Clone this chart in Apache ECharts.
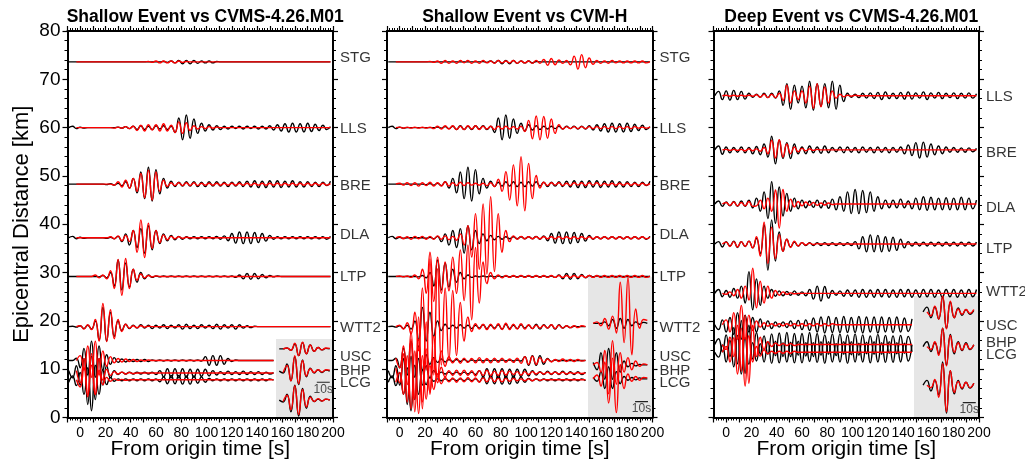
<!DOCTYPE html>
<html>
<head>
<meta charset="utf-8">
<script src="https://cdn.jsdelivr.net/npm/echarts@6/dist/echarts.min.js"></script>
<style>
  html, body { margin: 0; background: #fff; }
  #chart { width: 1025px; height: 461px; }
</style>
</head>
<body>
<div id="chart"></div>
<script>
// seismograms: amplitudes in km of the distance axis, one sample every STEP seconds
const STEP = 3
const OBS_T0 = -9     // black (data) traces start here
const SYN_T0 = -3     // red (synthetic) traces start here

const TITLES = ['Shallow Event vs CVMS-4.26.M01', 'Shallow Event vs CVM-H', 'Deep Event vs CVMS-4.26.M01']

const SHALLOW_STATIONS = ['STG', 'LLS', 'BRE', 'DLA', 'LTP', 'WTT2', 'USC', 'BHP', 'LCG']
const SHALLOW_BASE = [73.6, 60.0, 48.3, 37.2, 29.2, 18.8, 11.8, 9.2, 7.8]
const SHALLOW_LABEL_Y = [74.4, 59.7, 47.9, 37.8, 29.1, 18.5, 12.6, 9.7, 7.1]
const END_P1 = [198, 198, 198, 198, 198, 198, 153, 153, 153]
const END_P2 = [198, 198, 198, 198, 198, 148, 148, 148, 148]

const DEEP_STATIONS = ['LLS', 'BRE', 'DLA', 'LTP', 'WTT2', 'USC', 'BHP', 'LCG']
const DEEP_BASE = [66.6, 55.4, 44.2, 35.9, 25.7, 19.2, 15.1, 13.5]
const DEEP_LABEL_Y = [66.3, 54.7, 43.3, 35.0, 26.0, 18.9, 15.5, 12.9]
const END_P3 = [198, 198, 198, 198, 198, 147, 147, 147]

// observed, shallow event (used by panel 1 and 2)
const SHALLOW_OBS = [
  [0,0,0,0,0,0,0,0,0,0, 0,0,0,0,0,0,0,0,0,0, 0,0,0,0,0,0.1,-0.1,0.2,-0.2,0.3, -0.4,0.3,-0.4,0.3,-0.3,0.2,-0.2,0.2,-0.2,0.1],
  [0,0.3,-0.2,0.1,-0.1,0,0,0,0,0, 0,0,0,0.1,-0.1,0.2,-0.2,0.3,-0.4,0.4, -0.4,0.3,-0.4,0.4,-0.3,0.4,-0.4,0.3,-1.0,2.0, -2.5,2.6,-2.2,1.8,-1.2,0.9,-0.7,0.6,-0.5,0.4, -0.4,0.3,-0.3,0.3,-0.2,0.3,-0.3,0.3,-0.2,0.3, -0.3,0.3,-0.3,0.4,-0.5,0.6,-0.7,0.8,-0.9,0.9, -0.9,0.8,-0.9,0.9,-0.8,0.7,-0.6,0.5,-0.4,0.2],
  [0,0,0,0,0,0,0,0,0,0, -0.1,0.1,-0.2,0.2,-0.3,0.5,-0.8,1.2,-1.8,2.5, -3.0,3.5,-3.5,3.0,-2.0,1.2,-0.8,0.6,-0.5,0.4, -0.4,0.5,-0.4,0.5,-0.5,0.4,-0.5,0.5,-0.4,0.5, -0.4,0.4,-0.5,0.4,-0.4,0.5,-0.5,0.6,-0.6,0.7, -0.7,0.6,-0.7,0.7,-0.6,0.7,-0.7,0.6,-0.6,0.7, -0.6,0.5,-0.6,0.5,-0.5,0.4,-0.5,0.4,-0.3,0.6],
  [0,0.3,-0.2,0.1,-0.1,0,0,0,0,0, -0.1,0.1,-0.2,0.3,-0.8,0.8,-1.5,1.5,-2.0,1.9, -3.2,2.5,-2.5,1.5,-1.2,0.8,-0.6,0.5,-0.4,0.3, -0.3,0.2,-0.2,0.2,-0.2,0.2,-0.2,0.2,-0.2,0.3, -0.3,0.4,-0.6,0.9,-1.1,1.2,-1.2,1.2,-1.2,1.1, -1.0,0.9,-0.7,0.5,-0.3,0.2,-0.2,0.2,-0.2,0.2, -0.2,0.2,-0.2,0.2,-0.2,0.2,-0.2,0.2,-0.3,0.3],
  [0,0,0,0,0,0,0,0,-0.1,0.2, -0.3,0.8,-2.0,3.4,-2.8,2.8,-2.2,1.5,-1.2,0.8, -0.5,0.3,-0.2,0.1,-0.1,0.1,-0.1,0.1,-0.1,0.1, -0.1,0.1,-0.1,0.1,-0.1,0.1,-0.1,0.1,-0.1,0.1, -0.1,0.1,-0.1,0.1,-0.2,0.3,-0.5,0.6,-0.6,0.6, -0.5,0.4,-0.3,0.2,-0.1,0.1],
  [0,0.1,-0.1,0.2,-0.4,0.3,-0.5,1.2,-2.8,4.0, -3.0,3.0,-2.0,1.2,-0.8,0.5,-0.4,0.3,-0.3,0.4, -0.3,0.3,-0.4,0.3,-0.3,0.4,-0.4,0.3,-0.3,0.4, -0.5,0.5,-0.4,0.3,-0.4,0.4,-0.3,0.3,-0.4,0.5, -0.5,0.4,-0.3,0.4,-0.5,0.4,-0.3,0.2,-0.2,0.1],
  [0,0,0.5,-1.5,2.5,-3.0,4.0,-3.5,3.0,-2.0, 1.2,-0.8,0.6,-0.4,0.3,-0.3,0.2,-0.2,0.2,-0.2, 0.2,-0.2,0.1,-0.1,0.1,-0.1,0.1,-0.1,0.1,-0.1, 0.1,-0.1,0.1,-0.1,0.1,-0.1,0.8,-1.0,1.0,-1.0, 1.0,-0.8,0.4,-0.2,0.1],
  [0.5,-1.0,1.5,-2.5,3.0,-6.5,3.5,-5.5,3.0,-2.5, 1.5,-1.0,0.5,-0.3,0.2,-0.2,0.2,-0.2,0.2,-0.2, 0.2,-0.2,0.2,-0.3,0.5,-0.8,0.9,-1.0,0.9,-1.0, 0.9,-0.9,0.8,-0.9,0.8,-0.7,0.8,-0.6,0.5,-0.4, 0.3,-0.3,0.4,-0.3,0.3,-0.3,0.4,-0.3,0.3,-0.3, 0.3,-0.3,0.2,-0.2,0.1],
  [-0.5,0.8,-1.2,1.5,-3.0,2.5,-6.4,3.0,-3.0,2.0, -1.0,0.5,-0.3,0.2,-0.2,0.2,-0.2,0.2,-0.2,0.2, -0.2,0.2,-0.2,0.2,-0.4,0.6,-0.8,0.9,-0.8,0.9, -0.9,0.8,-0.9,0.8,-0.7,0.6,-0.5,0.3,-0.2,0.2, -0.2,0.2,-0.2,0.2,-0.2,0.2,-0.2,0.2,-0.2,0.2, -0.2,0.2,-0.2,0.2,-0.1]
]

// synthetics CVMS-4.26.M01, shallow event
const SHALLOW_CVMS = [
  [0,0,0,0,0,0,0,0,0,0, 0,0,0,0,0,0,0,0,0,0.1, -0.1,0.2,-0.2,0.2,-0.2,0.2,-0.2,0.2,-0.1,0.1],
  [0,0,0,0,0,0,0,0,0,0, -0.1,0.1,-0.1,0.2,-0.2,0.3,-0.6,0.5,-0.7,0.6, -0.5,0.6,-0.7,0.8,-0.7,0.5,-1.0,1.2,-1.2,1.0, -0.6,0.4,-0.3,0.2,-0.2,0.2,-0.1,0.1],
  [0,0,0,0,0,0,0,0,0,0, -0.2,0.5,-0.6,0.8,-0.8,1.2,-1.5,2.2,-2.8,2.9, -3.3,2.5,-1.5,0.8,-0.5,0.3,-0.3,0.3,-0.3,0.3, -0.3,0.3,-0.3,0.2,-0.2,0.2,-0.2,0.2,-0.2,0.2, -0.2,0.2,-0.2,0.2,-0.2,0.2,-0.2,0.2,-0.2,0.2, -0.2,0.2,-0.2,0.2,-0.2,0.2,-0.2,0.2,-0.2,0.2, -0.2,0.2,-0.2,0.2,-0.2,0.2,-0.2,0.1],
  [0,0,0,0,0,0,0,0,0,0.2, -0.2,0.4,-0.6,0.5,-0.8,1.5,-3.0,3.7,-4.1,3.0, -2.2,1.5,-1.0,0.6,-0.4,0.3,-0.2,0.2,-0.1,0.1],
  [0,0,0,0,0,0.3,-0.3,0.3,-0.5,1.2, -2.5,3.5,-3.9,3.7,-2.5,1.5,-0.8,0.5,-0.3,0.2, -0.1,0.1],
  [0,0.2,-0.5,0.4,-0.6,1.5,-3.0,4.8,-3.1,3.5, -2.5,1.5,-1.0,0.5,-0.3,0.2,-0.2,0.2,-0.1,0.1],
  [0,1.0,-2.0,3.0,-3.5,4.0,-3.0,2.0,-1.2,0.8, -0.5,0.4,-0.3,0.3,-0.2,0.2,-0.2,0.1,-0.1,0.1],
  [0.5,-2.0,3.0,-4.5,4.0,-4.5,3.0,-1.5,0.8,-0.5, 0.3,-0.2,0.2,-0.2,0.1,-0.1],
  [0,-1.5,2.5,-3.5,3.0,-3.0,2.0,-1.0,0.5,-0.3, 0.2,-0.1,0.1,-0.1]
]

// synthetics CVM-H, shallow event
const SHALLOW_CVMH = [
  [0,0,0,0,0,0,0,0,0,0.1, -0.1,0.2,-0.3,0.3,-0.3,0.2,-0.3,0.3,-0.2,0.3, -0.3,0.2,-0.3,0.3,-0.2,0.2,-0.3,0.3,-0.2,0.2, -0.2,0.3,-0.3,0.2,-0.2,0.2,-0.3,0.3,-0.3,0.5, -0.7,0.7,-0.6,0.4,-0.3,0.3,-0.6,1.2,-1.5,1.5, -1.2,0.8,-0.5,0.3,-0.3,0.2,-0.3,0.3,-0.2,0.2, -0.2,0.2,-0.2,0.2,-0.2,0.2,-0.2,0.1],
  [0,0.1,-0.1,0.1,-0.1,0.1,-0.1,0.1,-0.1,0.1, -0.2,0.3,-0.3,0.4,-0.3,0.4,-0.4,0.3,-0.4,0.4, -0.3,0.4,-0.4,0.3,-0.3,0.3,-0.4,0.3,-0.3,0.3, -0.3,0.2,-0.3,0.3,-0.8,1.5,-2.3,2.4,-2.5,2.3, -2.2,1.8,-1.2,0.6,-0.3,0.2,-0.2,0.2,-0.2,0.2, -0.2,0.2,-0.2,0.2,-0.2,0.2,-0.2,0.2,-0.2,0.2, -0.2,0.2,-0.2,0.2,-0.1,0.1,-0.1,0.1],
  [0,0.2,-0.2,0.3,-0.3,0.3,-0.4,0.3,-0.3,0.4, -0.4,0.3,-0.4,0.5,-0.4,0.3,-0.3,0.4,-0.3,0.3, -0.2,0.2,-0.2,0.2,-0.3,0.3,-0.5,1.0,-1.5,2.6, -3.3,4.0,-4.5,5.7,-5.5,4.3,-3.0,1.8,-0.8,0.4, -0.3,0.3,-0.2,0.3,-0.3,0.2,-0.3,0.3,-0.2,0.3, -0.3,0.3,-0.2,0.3,-0.3,0.2,-0.2,0.2,-0.2,0.2, -0.2,0.2,-0.2,0.2,-0.2,0.2,-0.2,0.1],
  [0,0.2,-0.2,0.2,-0.3,0.3,-0.2,0.3,-0.3,0.3, -0.3,0.4,-0.3,0.4,-0.4,0.3,-0.5,0.8,-1.5,2.5, -4.0,5.0,-6.5,7.0,-7.5,8.5,-7.0,5.0,-3.0,1.5, -0.8,0.4,-0.3,0.3,-0.2,0.2,-0.2,0.2,-0.2,0.2, -0.2,0.2,-0.2,0.2,-0.2,0.2,-0.2,0.2,-0.2,0.2, -0.2,0.2,-0.2,0.2,-0.2,0.2,-0.2,0.2,-0.2,0.2, -0.2,0.2,-0.2,0.2,-0.2,0.2,-0.2,0.1],
  [0,0.1,-0.1,0.1,-0.2,0.3,-0.5,1.5,-3.5,5.0, -5.2,4.0,-3.5,3.0,-3.0,4.0,-3.5,5.5,-5.0,6.5, -9.0,6.0,-5.5,3.0,-1.5,0.8,-0.5,0.3,-0.3,0.2, -0.2,0.2,-0.2,0.2,-0.2,0.2,-0.2,0.2,-0.2,0.2, -0.2,0.2,-0.2,0.2,-0.2,0.2,-0.2,0.2,-0.2,0.2, -0.2,0.2,-0.2,0.2,-0.2,0.2,-0.2,0.2,-0.2,0.2, -0.2,0.2,-0.2,0.2,-0.2,0.2,-0.2,0.1],
  [0,0.3,-0.5,0.8,-1.5,3.0,-5.0,8.0,-9.0,14.0, -10.0,12.0,-8.0,8.0,-7.0,7.5,-6.0,5.0,-3.0,2.0, -1.0,0.6,-0.5,0.5,-0.6,0.5,-0.5,0.6,-0.6,0.7, -0.6,0.5,-0.5,0.6,-0.5,0.4,-0.4,0.3,-0.3,0.3, -0.3,0.4,-0.4,0.3,-0.3,0.2,-0.2,0.2,-0.2,0.2],
  [0.5,-1.5,3.0,-5.0,6.0,-8.0,9.0,-10.0,8.0,-7.0, 5.0,-3.5,2.0,-1.2,0.8,-0.5,0.5,-0.6,0.5,-0.4, 0.4,-0.5,0.6,-0.5,0.4,-0.5,0.5,-0.4,0.5,-0.4, 0.3,-0.4,0.5,-0.6,0.8,-0.8,0.9,-0.8,0.6,-0.4, 0.3,-0.3,0.2,-0.2,0.3,-0.2,0.2,-0.2,0.2,-0.1, 0.1],
  [1.0,-2.0,4.0,-6.0,7.0,-8.0,7.0,-6.0,5.0,-4.0, 3.0,-2.0,1.2,-0.8,0.5,-0.5,0.6,-0.5,0.6,-0.5, 0.5,-0.6,0.5,-0.5,0.6,-0.5,0.4,-0.5,0.5,-0.4, 0.4,-0.3,0.3,-0.4,0.3,-0.3,0.3,-0.2,0.2,-0.2, 0.2,-0.2,0.2,-0.2,0.2,-0.2,0.1,-0.1,0.1,-0.1],
  [-0.5,1.5,-3.0,5.0,-6.0,6.0,-7.0,5.0,-4.0,3.0, -2.0,1.2,-0.8,0.5,-0.4,0.4,-0.5,0.4,-0.4,0.5, -0.4,0.4,-0.5,0.4,-0.4,0.5,-0.4,0.3,-0.4,0.3, -0.3,0.3,-0.2,0.2,-0.2,0.2,-0.2,0.2,-0.1,0.1]
]

// observed, deep event
const DEEP_OBS = [
  [0,0.9,-0.8,1.0,-0.9,1.1,-0.8,0.9,-0.7,0.5, -0.3,0.3,-0.3,0.5,-0.4,0.5,-0.5,1.0,-2.0,2.5, -2.8,2.2,-1.5,2.0,-2.5,3.0,-3.0,2.5,-2.2,2.5, -2.5,3.0,-2.8,2.2,-1.2,0.5,-0.3,0.3,-0.4,0.5, -0.5,0.6,-0.6,0.7,-0.8,0.8,-0.6,0.5,-0.6,0.7, -0.7,0.8,-0.7,0.6,-0.5,0.8,-0.8,0.6,-0.5,0.7, -0.6,0.5,-0.4,0.6,-0.6,0.5,-0.5,0.6,-0.5,0.4],
  [0,0.8,-0.9,0.6,-0.6,0.5,-0.5,0.6,-0.6,0.5, -0.8,0.7,-1.0,1.2,-1.5,2.8,-2.9,2.0,-1.8,1.5, -1.8,1.2,-0.8,0.6,-0.8,0.8,-0.6,0.6,-0.7,0.8, -0.6,0.5,-0.4,0.6,-0.6,0.6,-0.5,0.5,-0.6,0.6, -0.5,0.5,-0.6,0.6,-0.5,0.5,-0.6,0.5,-0.5,0.6, -0.8,1.0,-1.2,1.5,-1.7,1.6,-1.5,1.2,-1.0,0.8, -0.8,0.6,-0.5,0.5,-0.5,0.4,-0.5,0.4,-0.4,0.3],
  [0,0.6,-0.5,0.4,-0.4,0.5,-0.5,0.6,-0.5,0.8, -0.8,1.2,-1.5,2.5,-3.0,4.6,-4.0,3.5,-2.5,2.2, -1.5,1.2,-1.0,0.8,-0.8,0.6,-0.7,0.8,-0.8,0.7, -0.9,1.0,-1.2,1.5,-1.5,2.5,-2.0,3.0,-2.0,2.8, -1.8,2.5,-1.5,1.5,-1.0,0.8,-0.8,0.8,-0.8,1.0, -0.8,0.6,-1.0,1.2,-1.2,1.5,-1.3,1.4,-1.2,1.2, -1.2,1.3,-1.2,1.2,-1.2,1.4,-1.2,1.2,-1.0,0.8],
  [0,0.5,-0.6,0.5,-0.4,0.6,-0.7,0.5,-0.5,0.6, -0.8,1.2,-2.0,4.0,-5.4,5.0,-3.5,2.5,-1.5,1.0, -0.6,0.4,-0.4,0.3,-0.3,0.3,-0.3,0.3,-0.3,0.3, -0.3,0.3,-0.3,0.3,-0.3,0.3,-0.3,0.5,-1.0,1.5, -1.6,1.9,-1.6,1.8,-1.6,1.5,-1.5,1.4,-1.3,1.0, -0.8,0.5,-0.4,0.4,-0.4,0.4,-0.4,0.4,-0.4,0.4, -0.4,0.4,-0.4,0.4,-0.4,0.4,-0.4,0.4,-0.4,0.4],
  [0,0.8,-0.7,0.6,-0.8,1.0,-1.0,1.5,-2.0,4.5, -3.4,3.0,-2.5,1.5,-1.0,0.8,-0.6,0.5,-0.5,0.4, -0.4,0.5,-0.4,0.3,-0.5,0.8,-1.2,1.5,-1.6,1.4, -1.0,0.6,-0.4,0.5,-0.6,0.7,-0.6,0.7,-0.8,0.8, -0.8,0.7,-0.8,0.8,-0.7,0.8,-0.8,0.7,-0.8,0.8, -0.7,0.8,-0.8,0.7,-0.8,0.8,-0.7,0.8,-0.8,0.7, -0.8,0.8,-0.7,0.8,-0.8,0.7,-0.8,0.8,-0.7,0.8],
  [0,-1.0,1.0,-1.5,1.5,-2.0,2.5,-3.0,2.0,-1.5, 1.5,-1.5,1.2,-1.0,0.8,-0.8,0.6,-0.5,0.6,-0.6, 0.8,-0.8,0.9,-1.0,1.0,-1.2,1.4,-1.5,1.6,-1.7, 1.7,-1.6,1.5,-1.6,1.7,-1.6,1.5,-1.6,1.7,-1.7, 1.6,-1.5,1.6,-1.7,1.6,-1.5,1.5,-1.6,1.6,-1.5, 1.4,-1.4,1.2],
  [0,1.2,-1.5,2.0,-2.5,3.5,-4.0,5.0,-6.0,4.0, -3.0,2.5,-2.0,1.8,-2.0,2.2,-2.3,2.4,-2.5,2.5, -2.5,2.3,-2.2,2.3,-2.4,2.5,-2.5,2.3,-2.2,2.0, -2.0,2.2,-2.3,2.2,-2.0,2.0,-2.1,2.2,-2.2,2.0, -1.9,1.8,-2.0,2.1,-2.0,1.9,-1.8,1.8,-1.9,1.9, -1.8,1.7,-1.5],
  [0,-1.0,1.5,-2.0,2.5,-3.0,3.5,-4.5,3.0,-2.5, 2.0,-1.8,1.8,-2.0,2.2,-2.3,2.3,-2.2,2.0,-2.0, 2.1,-2.2,2.3,-2.2,2.0,-1.9,2.0,-2.1,2.2,-2.3, 2.2,-2.0,1.8,-2.0,2.2,-2.3,2.2,-2.0,1.9,-2.0, 2.1,-2.2,2.2,-2.0,2.0,-2.1,2.2,-2.1,2.0,-2.0, 1.9,-1.8,1.6]
]

// synthetics CVMS-4.26.M01, deep event
const DEEP_CVMS = [
  [0,0.1,-0.1,0.1,-0.1,0.1,-0.1,0.1,-0.1,0.2, -0.3,0.3,-0.4,0.3,-0.4,0.5,-1.0,2.2,-1.5,1.0, -0.8,1.0,-1.5,2.0,-2.6,2.5,-2.3,1.8,-1.5,1.0, -0.5,0.3,-0.2,0.1,-0.1,0.1],
  [0,0.1,-0.1,0.1,-0.1,0.1,-0.2,0.2,-0.2,0.2, -0.3,0.5,-0.8,2.0,-1.7,2.1,-1.5,1.2,-0.8,0.6, -0.4,0.3,-0.2,0.2,-0.1,0.1],
  [0,0.3,-0.3,0.4,-0.4,0.3,-0.4,0.5,-0.5,-0.4, 0.8,-1.0,1.2,-1.5,2.9,-5.0,3.0,-1.5,1.0,-0.6, 0.5,-0.4,0.4,-0.3,0.3,-0.3,0.2,-0.2,0.2,-0.1],
  [0,0.4,-0.5,0.5,-0.6,0.5,-0.5,0.6,-0.8,1.5, -2.5,4.5,-4.0,3.5,-3.0,2.0,-1.5,1.0,-0.7,0.6, -0.4,0.3,-0.2,0.2,-0.1,0.1],
  [0,-0.2,0.3,-0.5,0.8,-1.0,1.5,-1.4,5.2,-3.0, 2.5,-2.0,1.5,-1.0,0.6,-0.4,0.3,-0.2,0.1,-0.1],
  [0,1.0,-1.5,2.5,-3.0,4.0,-3.0,2.0,-1.2,0.8, -0.5,0.4,-0.3,0.2,-0.2,0.2,-0.2,0.2,-0.2,0.2, -0.2,0.2,-0.2,0.2,-0.2,0.2,-0.2,0.2,-0.2,0.2],
  [0,-1.0,1.5,-2.5,4.0,-5.5,6.0,-8.0,4.0,-2.5, 1.5,-1.0,0.6,-0.4,0.3,-0.2,0.2,-0.2,0.2,-0.2],
  [0,1.2,-2.0,3.0,-4.5,5.0,-7.0,3.5,-2.0,1.2, -0.8,0.5,-0.3,0.2,-0.2,0.2,-0.2,0.2,-0.2,0.2]
]

// zoomed insets (grey boxes): baselines in km, samples every STEP seconds of inset time
const INSET1_BASE = [14.2, 9.6, 3.6]
const INSET1_OBS_T0 = 2.5
const INSET1_SYN_T0 = 5.5
const INSET1_OBS = [
  [0,0,0.2,-0.3,1.0,-1.4,1.3,-1.0,0.8,-0.5,0.3,-0.2,0.1,0],
  [0,-0.4,1.5,-2.0,3.0,-2.8,2.3,-1.2,0.6,-0.4,0.3,-0.3,0.2,0],
  [0,-0.4,1.2,-2.4,3.1,-3.3,2.4,-1.7,0.8,-0.3,0.2,-0.2,0.2,0]
]
const INSET1_SYN = [
  [0,0.2,-0.3,1.2,-1.4,1.4,-1.0,0.8,-0.5,0.3,-0.2,0.2,0.1],
  [-0.3,1.2,-2.0,3.2,-2.6,2.2,-1.0,0.5,-0.3,0.3,-0.2,0.3,0.2],
  [-0.3,1.0,-2.0,3.0,-3.0,2.2,-1.4,0.6,-0.3,0.3,-0.2,0.2,0]
]
const INSET2_BASE = [19.5, 10.9, 8.0]
const INSET2_OBS_T0 = 4
const INSET2_SYN_T0 = 4
const INSET2_OBS = [
  [0,0,0,0.3,-0.5,0.8,-1.0,1.0,-1.0,0.8,-0.5,0.3,-0.2,0.2,0],
  [0.5,-1.0,2.5,-3.0,3.4,-3.0,2.5,-1.5,0.8,-0.4,0.3,-0.2,0.1,0,0],
  [0.3,-0.5,1.5,-2.0,2.5,-2.0,1.5,-1.0,0.5,-0.3,0.3,-0.2,0.2,0,0]
]
const INSET2_SYN = [
  [0,0.3,-0.5,1.0,-1.2,1.5,-2.0,8.5,-4.0,9.5,-6.5,3.0,-1.0,0.8,0.6],
  [0,0.5,-1.5,3.0,-6.0,5.0,-4.0,2.5,-1.5,1.5,-1.0,0.8,-0.3,0.2,0],
  [0,0.8,-1.5,3.5,-5.0,4.3,-7.0,3.0,-2.0,1.0,-0.5,0.5,-0.3,0.3,0.2]
]
const INSET3_BASE = [21.9, 14.7, 6.7]
const INSET3_OBS_T0 = 7
const INSET3_SYN_T0 = 10
const INSET3_OBS = [
  [0,1.0,-1.2,1.0,-1.5,3.1,-3.4,2.0,-1.2,0.8,-0.7,0.5,-0.5,0.3],
  [0,1.0,-1.0,0.8,-1.5,3.8,-3.8,2.5,-1.5,1.0,-0.8,0.8,-0.6,0.4],
  [0,1.0,-1.2,1.0,-2.0,4.8,-5.8,3.0,-1.8,1.0,-0.8,0.6,-0.6,0.4]
]
const INSET3_SYN = [
  [0,-0.8,1.2,-1.5,3.3,-3.5,2.2,-1.2,0.6,-0.5,0.5,-0.3,0.5],
  [0,-0.6,1.0,-1.8,3.8,-4.0,2.3,-1.2,0.8,-0.7,0.6,-0.5,0.4],
  [0,-0.5,1.2,-2.5,4.5,-5.5,3.0,-1.5,0.8,-0.6,0.6,-0.5,0.4]
]
const INSET_XMAX = [44, 50, 50]
const INSET_YMAX = [16.25, 29.1, 25.2]
// 10 s scale bars: [t start, t end, y km]
const SCALE_BARS = [[31.5, 41.5, 7.3], [36.5, 46.5, 3.3], [37.5, 47.5, 3.1]]

const FONT = 'Liberation Sans, Arial, Helvetica, sans-serif'
const BLACK = '#000'
const RED = '#ff0000'

const chart = echarts.init(document.getElementById('chart'))

function samples(amps, t0, end) {
  const pts = []
  amps.forEach((a, i) => {
    const t = t0 + i * STEP
    if (t <= end) pts.push([t, a])
  })
  let t = pts[pts.length - 1][0] + STEP
  while (t <= end) { pts.push([t, 0]); t += STEP }
  return pts
}

function trace(pts, base, color, axis, z) {
  return {
    type: 'line',
    xAxisIndex: axis,
    yAxisIndex: axis,
    data: pts.map(p => [p[0], base + p[1]]),
    symbol: 'none',
    smooth: 0.5,
    lineStyle: { color, width: 1.4 },
    silent: true,
    z
  }
}

const panelGrids = [
  { left: 67.5, top: 31, width: 265.5, height: 386.5 },
  { left: 387, top: 31, width: 265.5, height: 386.5 },
  { left: 713.5, top: 31, width: 265.5, height: 386.5 }
]
const insetGrids = [
  { left: 276, top: 339, width: 57, height: 78.5 },
  { left: 588, top: 277, width: 64.5, height: 140.5 },
  { left: 914, top: 296, width: 65, height: 121.5 }
]

const tickStyle = { show: true, inside: false, length: 5, lineStyle: { color: BLACK, width: 1.2 } }
const minorStyle = { show: true, splitNumber: 5, length: 3, lineStyle: { color: BLACK, width: 1 } }
const lineStyle = { show: true, onZero: false, lineStyle: { color: BLACK, width: 2 } }

const grids = []
const xAxes = []
const yAxes = []
panelGrids.forEach((g, p) => {
  grids.push(Object.assign({ containLabel: false, outerBoundsMode: 'none' }, g))
  xAxes.push({
    gridIndex: p, type: 'value', position: 'bottom', min: -10, max: 200, interval: 10, z: 5,
    axisLine: lineStyle, axisTick: tickStyle, minorTick: minorStyle, splitLine: { show: false },
    axisLabel: { color: BLACK, fontSize: 14, fontFamily: FONT, margin: 9, formatter: v => (v % 20 === 0 ? String(v) : '') },
    name: 'From origin time [s]', nameLocation: 'middle', nameGap: 21, nameMoveOverlap: false,
    nameTextStyle: { color: BLACK, fontSize: 21, fontFamily: FONT }
  })
  xAxes.push({
    gridIndex: p, type: 'value', position: 'top', min: -10, max: 200, interval: 10, z: 5,
    axisLine: lineStyle, axisTick: tickStyle, minorTick: minorStyle, splitLine: { show: false },
    axisLabel: { show: false }
  })
  yAxes.push({
    gridIndex: p, type: 'value', position: 'left', min: 0, max: 80, interval: 10, z: 5,
    axisLine: lineStyle, axisTick: tickStyle, minorTick: minorStyle, splitLine: { show: false },
    axisLabel: { show: p === 0, color: BLACK, fontSize: 19, fontFamily: FONT, margin: 7 },
    name: p === 0 ? 'Epicentral Distance [km]' : '', nameLocation: 'middle', nameGap: 35, nameMoveOverlap: false,
    nameTextStyle: { color: BLACK, fontSize: 22, fontFamily: FONT }
  })
  yAxes.push({
    gridIndex: p, type: 'value', position: 'right', min: 0, max: 80, interval: 10, z: 5,
    axisLine: lineStyle, axisTick: tickStyle, minorTick: minorStyle, splitLine: { show: false },
    axisLabel: { show: false }
  })
})
insetGrids.forEach((g, i) => {
  grids.push(Object.assign({ show: true, backgroundColor: '#e6e6e6', borderWidth: 0, z: 1, outerBoundsMode: 'none' }, g))
  xAxes.push({ gridIndex: 3 + i, type: 'value', min: 0, max: INSET_XMAX[i], show: false })
  yAxes.push({ gridIndex: 3 + i, type: 'value', min: 0, max: INSET_YMAX[i], show: false })
})
// axis index for each grid: panels use the bottom/left axes (0,2,4), insets 6,7,8
const PANEL_AXIS = [0, 2, 4]
const INSET_AXIS = [6, 7, 8]

const series = []
function addPanel(p, bases, ends, obs, syn) {
  obs.forEach((a, i) => series.push(trace(samples(a, OBS_T0, ends[i]), bases[i], BLACK, PANEL_AXIS[p], 3)))
  syn.forEach((a, i) => series.push(trace(samples(a, SYN_T0, ends[i]), bases[i], RED, PANEL_AXIS[p], 4)))
}
addPanel(0, SHALLOW_BASE, END_P1, SHALLOW_OBS, SHALLOW_CVMS)
addPanel(1, SHALLOW_BASE, END_P2, SHALLOW_OBS, SHALLOW_CVMH)
addPanel(2, DEEP_BASE, END_P3, DEEP_OBS, DEEP_CVMS)

const insets = [
  [INSET1_BASE, INSET1_OBS, INSET1_SYN, INSET1_OBS_T0, INSET1_SYN_T0],
  [INSET2_BASE, INSET2_OBS, INSET2_SYN, INSET2_OBS_T0, INSET2_SYN_T0],
  [INSET3_BASE, INSET3_OBS, INSET3_SYN, INSET3_OBS_T0, INSET3_SYN_T0]
]
insets.forEach(([base, obs, syn, t0o, t0s], k) => {
  const ax = INSET_AXIS[k]
  obs.forEach((a, i) => series.push(trace(a.map((v, j) => [t0o + j * STEP, v]), base[i], BLACK, ax, 3)))
  syn.forEach((a, i) => series.push(trace(a.map((v, j) => [t0s + j * STEP, v]), base[i], RED, ax, 4)))
  const [b0, b1, by] = SCALE_BARS[k]
  series.push({
    type: 'line', xAxisIndex: ax, yAxisIndex: ax, data: [[b0, by], [b1, by]],
    symbol: 'none', lineStyle: { color: '#222', width: 1.2 }, silent: true, z: 5
  })
  series.push({
    type: 'scatter', xAxisIndex: ax, yAxisIndex: ax, data: [[(b0 + b1) / 2, by]],
    symbolSize: 0, silent: true, z: 5,
    label: { show: true, position: 'bottom', distance: 1, formatter: '10s', color: '#222', fontSize: 12, fontFamily: FONT }
  })
})

// station names right of each panel
const labelSets = [
  [SHALLOW_STATIONS, SHALLOW_LABEL_Y],
  [SHALLOW_STATIONS, SHALLOW_LABEL_Y],
  [DEEP_STATIONS, DEEP_LABEL_Y]
]
labelSets.forEach(([names, ys], p) => {
  series.push({
    type: 'scatter', xAxisIndex: PANEL_AXIS[p], yAxisIndex: PANEL_AXIS[p], clip: false,
    data: names.map((n, i) => ({ value: [200, ys[i]], name: n })),
    symbolSize: 0, silent: true, z: 6,
    label: { show: true, position: 'right', distance: 7, formatter: '{b}', color: BLACK, fontSize: 15, fontFamily: FONT }
  })
})

const titles = TITLES.map((t, p) => ({
  text: t,
  left: panelGrids[p].left + panelGrids[p].width / 2,
  textAlign: 'center',
  top: 3,
  textStyle: { color: BLACK, fontSize: 17.5, fontWeight: 'bold', fontFamily: FONT }
}))

chart.setOption({
  animation: false,
  backgroundColor: '#fff',
  title: titles,
  grid: grids,
  xAxis: xAxes,
  yAxis: yAxes,
  series
})
</script>
</body>
</html>
